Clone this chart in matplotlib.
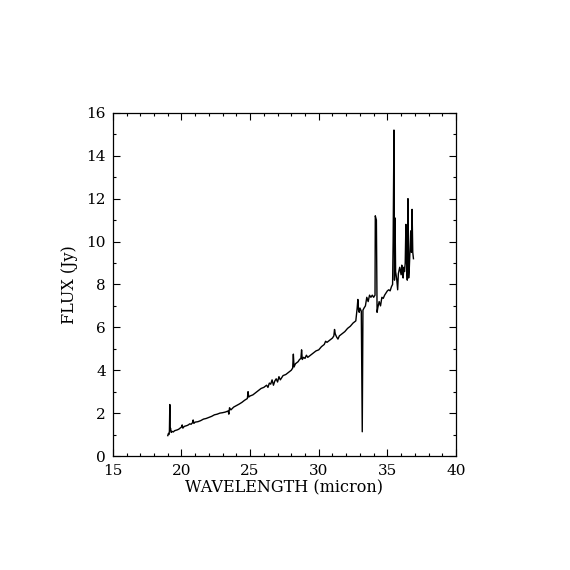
import matplotlib
matplotlib.use("Agg")
import matplotlib.pyplot as plt
from matplotlib.ticker import MultipleLocator

# spectrum (micron, Jy)
wavelength = [
    19.00, 19.05, 19.08, 19.12, 19.15, 19.17, 19.20, 19.25, 19.30, 19.40,
    19.50, 19.60, 19.70, 19.80, 19.90, 20.00, 20.05, 20.10, 20.20, 20.30,
    20.40, 20.50, 20.60, 20.70, 20.80, 20.85, 20.90, 21.00, 21.20, 21.40,
    21.60, 21.80, 22.00, 22.20, 22.40, 22.60, 22.80, 23.00, 23.20, 23.40,
    23.45, 23.50, 23.60, 23.80, 24.00, 24.20, 24.40, 24.60, 24.80, 24.85,
    24.90, 25.00, 25.20, 25.40, 25.60, 25.80, 26.00, 26.20, 26.30, 26.40,
    26.50, 26.60, 26.70, 26.80, 26.90, 27.00, 27.10, 27.20, 27.40, 27.60,
    27.80, 28.00, 28.10, 28.15, 28.20, 28.30, 28.40, 28.50, 28.60, 28.70,
    28.75, 28.80, 28.90, 29.00, 29.10, 29.20, 29.30, 29.40, 29.60, 29.80,
    30.00, 30.20, 30.40, 30.50, 30.60, 30.80, 31.00, 31.10, 31.15, 31.20,
    31.30, 31.40, 31.50, 31.70, 31.90, 32.10, 32.30, 32.50, 32.70, 32.75,
    32.80, 32.85, 32.90, 32.95, 33.00, 33.10, 33.17, 33.22, 33.30, 33.40,
    33.50, 33.60, 33.70, 33.80, 33.90, 34.00, 34.10, 34.12, 34.20, 34.25,
    34.30, 34.40, 34.50, 34.60, 34.70, 34.80, 34.90, 35.00, 35.10, 35.20,
    35.30, 35.38, 35.42, 35.48, 35.52, 35.56, 35.60, 35.68, 35.75, 35.80,
    35.90, 36.00, 36.05, 36.10, 36.15, 36.20, 36.25, 36.30, 36.35, 36.40,
    36.45, 36.50, 36.55, 36.60, 36.70, 36.75, 36.80, 36.85, 36.90,
]
flux = [
    0.95, 1.05, 1.00, 1.15, 2.40, 1.20, 1.30, 1.10, 1.15, 1.12,
    1.18, 1.20, 1.22, 1.25, 1.30, 1.35, 1.45, 1.30, 1.38, 1.40,
    1.42, 1.45, 1.50, 1.48, 1.55, 1.68, 1.52, 1.58, 1.60, 1.65,
    1.72, 1.75, 1.80, 1.85, 1.92, 1.95, 2.00, 2.02, 2.05, 2.10,
    1.95, 2.25, 2.15, 2.28, 2.35, 2.42, 2.50, 2.60, 2.68, 3.00,
    2.75, 2.80, 2.85, 2.95, 3.05, 3.15, 3.20, 3.30, 3.20, 3.40,
    3.35, 3.55, 3.30, 3.50, 3.60, 3.45, 3.70, 3.55, 3.75, 3.80,
    3.90, 4.00, 4.10, 4.75, 4.15, 4.30, 4.35, 4.40, 4.50, 4.55,
    4.95, 4.50, 4.60, 4.55, 4.70, 4.60, 4.65, 4.70, 4.80, 4.90,
    4.95, 5.10, 5.20, 5.35, 5.30, 5.40, 5.50, 5.60, 5.90, 5.70,
    5.55, 5.45, 5.60, 5.70, 5.80, 5.95, 6.05, 6.20, 6.30, 6.60,
    6.90, 7.30, 6.80, 6.70, 6.90, 6.75, 1.13, 6.80, 6.90, 7.00,
    7.40, 7.20, 7.50, 7.40, 7.50, 7.40, 7.50, 11.20, 11.00, 6.70,
    6.90, 7.20, 7.00, 7.40, 7.35, 7.50, 7.60, 7.70, 7.75, 7.70,
    7.90, 8.00, 10.00, 15.20, 8.20, 11.10, 8.60, 8.25, 7.75, 8.50,
    8.80, 8.45, 8.90, 8.50, 8.30, 8.80, 8.60, 9.00, 10.80, 9.00,
    8.20, 12.00, 8.30, 8.80, 10.50, 9.50, 11.50, 9.50, 9.20,
]

plt.rcParams["font.family"] = ["DejaVu Serif"]

fig = plt.figure(figsize=(5.7, 5.7), dpi=100)
ax = fig.add_axes([0.198, 0.2, 0.602, 0.602])
ax.plot(wavelength, flux, color="black", lw=1.0)

ax.set_xlim(15, 40)
ax.set_ylim(0, 16)
ax.xaxis.set_major_locator(MultipleLocator(5))
ax.xaxis.set_minor_locator(MultipleLocator(1))
ax.yaxis.set_major_locator(MultipleLocator(2))
ax.yaxis.set_minor_locator(MultipleLocator(1))
ax.tick_params(which="both", direction="in", top=True, right=True,
               width=0.8, labelsize=11, colors="black")
ax.tick_params(which="major", length=5)
ax.tick_params(which="minor", length=2.5)
ax.tick_params(axis="x", which="major", pad=6)
ax.tick_params(axis="y", which="major", pad=5)
for s in ax.spines.values():
    s.set_linewidth(0.9)

ax.set_xlabel("WAVELENGTH (micron)", fontsize=11.5, labelpad=1)
ax.set_ylabel("FLUX (Jy)", fontsize=11.5, labelpad=6)

fig.savefig("out.png", dpi=100)
